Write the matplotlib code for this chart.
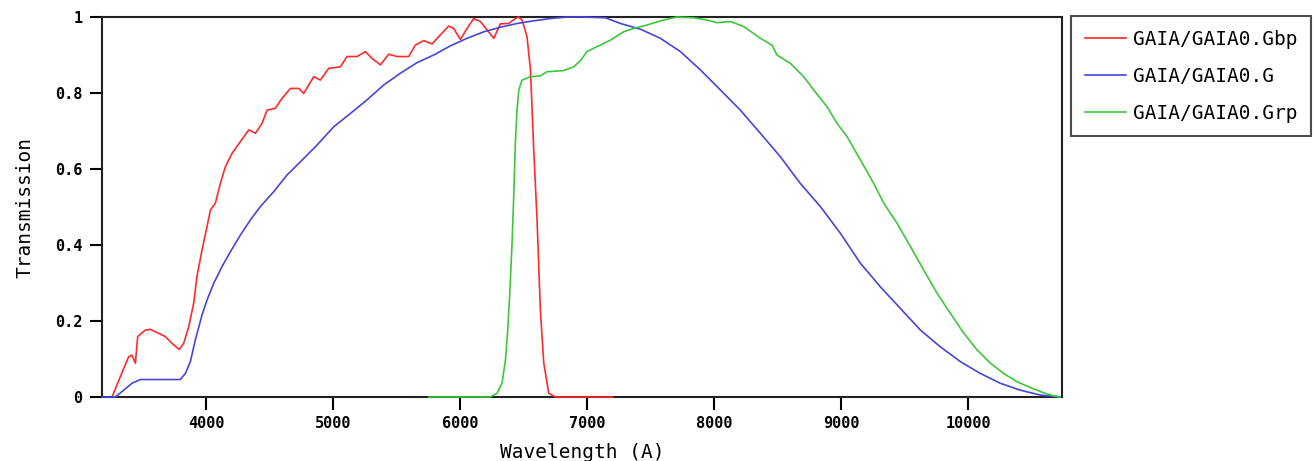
import numpy as np
import matplotlib.pyplot as plt
from matplotlib.ticker import FixedLocator, FuncFormatter

plt.rcParams['font.family'] = ['DejaVu Sans Mono']

# GAIA/GAIA0.Gbp
gbp_wave = [3257, 3323, 3388, 3414, 3441, 3459, 3519, 3559, 3598, 3677, 3730, 3787,
            3821, 3861, 3900, 3926, 3966, 4005, 4032, 4071, 4110, 4150, 4202, 4268,
            4334, 4386, 4439, 4478, 4544, 4596, 4662, 4728, 4767, 4846, 4898, 4964,
            5056, 5108, 5187, 5253, 5305, 5371, 5436, 5502, 5594, 5646, 5712, 5778,
            5843, 5909, 5948, 6001, 6054, 6106, 6159, 6211, 6264, 6316, 6382, 6434,
            6460, 6487, 6526, 6553, 6579, 6605, 6631, 6658, 6697, 6750, 7200]
gbp_trans = [0.0, 0.054, 0.106, 0.11, 0.089, 0.159, 0.176, 0.178, 0.172, 0.159, 0.141, 0.125,
             0.141, 0.185, 0.246, 0.317, 0.387, 0.448, 0.492, 0.510, 0.562, 0.606, 0.641, 0.672,
             0.703, 0.694, 0.720, 0.755, 0.760, 0.786, 0.812, 0.812, 0.799, 0.843, 0.834, 0.865,
             0.869, 0.896, 0.896, 0.909, 0.891, 0.874, 0.902, 0.896, 0.896, 0.926, 0.938, 0.929,
             0.953, 0.976, 0.970, 0.941, 0.970, 0.996, 0.988, 0.966, 0.944, 0.982, 0.983, 0.996,
             1.0, 0.992, 0.948, 0.861, 0.65, 0.466, 0.229, 0.089, 0.01, 0.0, 0.0]

# GAIA/GAIA0.G
g_wave = [3178, 3283, 3349, 3414, 3480, 3795, 3835, 3874, 3913, 3966, 4005, 4058,
          4123, 4189, 4268, 4347, 4425, 4530, 4635, 4741, 4872, 5003, 5134, 5266,
          5397, 5528, 5660, 5791, 5922, 6054, 6185, 6316, 6448, 6579, 6710, 6841,
          6946, 7143, 7261, 7419, 7576, 7734, 7891, 8049, 8206, 8364, 8522, 8679,
          8837, 8994, 9152, 9309, 9467, 9625, 9782, 9940, 10097, 10255, 10412, 10570, 10727]
g_trans = [0.0, 0.0, 0.018, 0.036, 0.046, 0.046, 0.062, 0.093, 0.15, 0.216, 0.255, 0.299,
           0.343, 0.382, 0.426, 0.466, 0.501, 0.540, 0.584, 0.619, 0.663, 0.711, 0.746, 0.782,
           0.821, 0.852, 0.880, 0.900, 0.924, 0.944, 0.961, 0.973, 0.983, 0.990, 0.996, 1.0,
           1.0, 0.998, 0.983, 0.968, 0.944, 0.909, 0.861, 0.808, 0.755, 0.694, 0.632, 0.562,
           0.501, 0.431, 0.352, 0.290, 0.233, 0.176, 0.132, 0.093, 0.062, 0.036, 0.018, 0.005, 0.0]

# GAIA/GAIA0.Grp
grp_wave = [5752, 6237, 6290, 6329, 6356, 6374, 6390, 6408, 6421, 6434, 6447, 6461,
            6487, 6553, 6631, 6684, 6815, 6894, 6946, 6998, 7077, 7182, 7287, 7366,
            7471, 7602, 7708, 7839, 7944, 8023, 8128, 8233, 8364, 8456, 8495, 8600,
            8705, 8784, 8889, 8968, 9047, 9152, 9257, 9336, 9441, 9546, 9651, 9756,
            9861, 9966, 10071, 10176, 10281, 10386, 10491, 10596, 10675, 10727]
grp_trans = [0.0, 0.0, 0.01, 0.036, 0.097, 0.176, 0.273, 0.404, 0.527, 0.668, 0.755, 0.808,
             0.834, 0.843, 0.845, 0.856, 0.859, 0.869, 0.885, 0.909, 0.922, 0.939, 0.961, 0.970,
             0.979, 0.992, 1.0, 0.998, 0.992, 0.985, 0.988, 0.975, 0.944, 0.926, 0.900, 0.878,
             0.843, 0.808, 0.764, 0.720, 0.685, 0.624, 0.562, 0.510, 0.457, 0.396, 0.334, 0.273,
             0.220, 0.168, 0.124, 0.089, 0.062, 0.040, 0.025, 0.011, 0.003, 0.0]

x_ticks = [4000, 5000, 6000, 7000, 8000, 9000, 10000]
y_ticks = [0, 0.2, 0.4, 0.6, 0.8, 1.0]

fig = plt.figure(figsize=(13.14, 4.61), dpi=100)
ax = fig.add_axes([102 / 1314, 1 - 397 / 461, 960 / 1314, 380 / 461])

# lines sit on top of the frame so the zero stretches show over the bottom spine
ax.plot(gbp_wave, gbp_trans, color='#ff2a2a', lw=1.2, label='GAIA/GAIA0.Gbp',
        clip_on=False, zorder=4)
ax.plot(g_wave, g_trans, color='#4646d8', lw=1.2, label='GAIA/GAIA0.G',
        clip_on=False, zorder=4)
ax.plot(grp_wave, grp_trans, color='#3cc83c', lw=1.2, label='GAIA/GAIA0.Grp',
        clip_on=False, zorder=4)

ax.set_xlim(3178, 10740)
ax.set_ylim(0, 1)
ax.xaxis.set_major_locator(FixedLocator(x_ticks))
ax.yaxis.set_major_locator(FixedLocator(y_ticks))
ax.yaxis.set_major_formatter(FuncFormatter(lambda v, p: '{:g}'.format(v)))
ax.tick_params(direction='out', length=9, width=1.5, pad=5, labelsize=11)
for lab in ax.get_xticklabels() + ax.get_yticklabels():
    lab.set_fontweight('bold')
for s in ax.spines.values():
    s.set_linewidth(1.5)
    s.set_color('#222222')

ax.set_xlabel('Wavelength (A)', fontsize=14, labelpad=8)
ax.set_ylabel('Transmission', fontsize=14, labelpad=15)

leg = ax.legend(loc='upper left', bbox_to_anchor=(1071 / 1314, 1 - 16 / 461),
                bbox_transform=fig.transFigure, fontsize=14, frameon=True,
                fancybox=False, handlelength=2.15, handletextpad=0.35,
                labelspacing=0.93, borderpad=0.7, borderaxespad=0)
leg.get_frame().set_edgecolor('#222222')
leg.get_frame().set_linewidth(1.5)

plt.savefig('out.png', dpi=100)
